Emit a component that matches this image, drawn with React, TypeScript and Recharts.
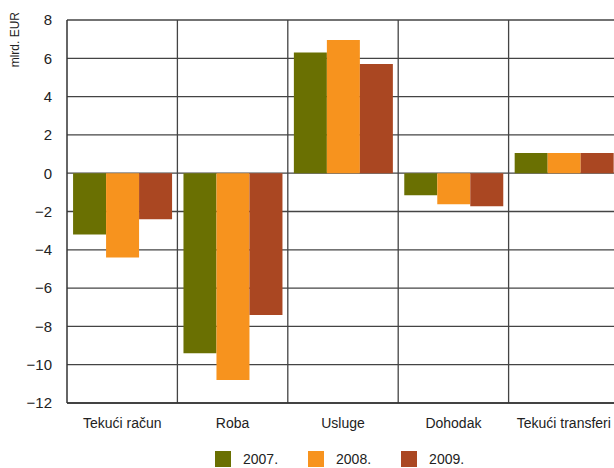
import { BarChart, Bar, XAxis, YAxis, CartesianGrid, Legend, Label } from 'recharts';

const categories = ['Tekući račun', 'Roba', 'Usluge', 'Dohodak', 'Tekući transferi'];
const y2007 = [-3.2, -9.4, 6.3, -1.15, 1.05];
const y2008 = [-4.4, -10.8, 6.95, -1.62, 1.05];
const y2009 = [-2.4, -7.4, 5.7, -1.72, 1.05];
const yTicks = [-12, -10, -8, -6, -4, -2, 0, 2, 4, 6, 8];

const series = [
  { key: 'y2007', name: '2007.', color: '#6a7002' },
  { key: 'y2008', name: '2008.', color: '#f7931e' },
  { key: 'y2009', name: '2009.', color: '#aa4722' },
];

const data = categories.map((c, i) => ({
  name: c,
  y2007: y2007[i],
  y2008: y2008[i],
  y2009: y2009[i],
}));

const FONT = '"Liberation Sans", Arial, sans-serif';

const fmt = (v: number) => (v < 0 ? `\u2212${Math.abs(v)}` : `${v}`);

function LegendBox() {
  return (
    <div style={{ display: 'flex', fontFamily: FONT, fontSize: 14, color: '#222', height: 16 }}>
      {series.map((s) => (
        <div key={s.key} style={{ display: 'flex', alignItems: 'center', marginRight: 30 }}>
          <span style={{ width: 16, height: 16, background: s.color, marginRight: 12, display: 'inline-block' }} />
          <span>{s.name}</span>
        </div>
      ))}
    </div>
  );
}

export default function App() {
  return (
    <div style={{ position: 'absolute', left: 0, top: 0, width: 614, height: 468, overflow: 'hidden', background: '#fff' }}>
      <BarChart
        width={622}
        height={468}
        data={data}
        margin={{ top: 20, right: 3, bottom: 14, left: 0 }}
        barCategoryGap="5.5%"
        barGap={0}
      >
        <CartesianGrid
          stroke="#444"
          strokeWidth={1.3}
          verticalCoordinatesGenerator={({ offset }: any) => {
            const w = offset.width / categories.length;
            return categories.map((_, i) => offset.left + w * (i + 1));
          }}
        />
        <XAxis
          dataKey="name"
          tickLine={false}
          axisLine={{ stroke: '#333', strokeWidth: 1.5 }}
          tickSize={0}
          tickMargin={15}
          height={35}
          tick={{ fill: '#222', fontSize: 14, fontFamily: FONT }}
          interval={0}
        />
        <YAxis
          width={67}
          domain={[-12, 8]}
          ticks={yTicks}
          interval={0}
          tickLine={false}
          axisLine={{ stroke: '#333', strokeWidth: 1.5 }}
          tickSize={0}
          tickMargin={15}
          tickFormatter={fmt}
          tick={{ fill: '#222', fontSize: 15, fontFamily: FONT }}
        >
          <Label
            content={() => (
              <text
                x={19}
                y={12}
                transform={`rotate(-90 19 12)`}
                textAnchor="end"
                fontSize={12}
                fontFamily={FONT}
                fill="#222"
              >
                mlrd. EUR
              </text>
            )}
          />
        </YAxis>
        <Legend
          verticalAlign="bottom"
          content={() => <LegendBox />}
          wrapperStyle={{ left: 215, bottom: 1, width: 'auto' }}
        />
        {series.map((s) => (
          <Bar key={s.key} dataKey={s.key} name={s.name} fill={s.color} isAnimationActive={false} />
        ))}
      </BarChart>
    </div>
  );
}
